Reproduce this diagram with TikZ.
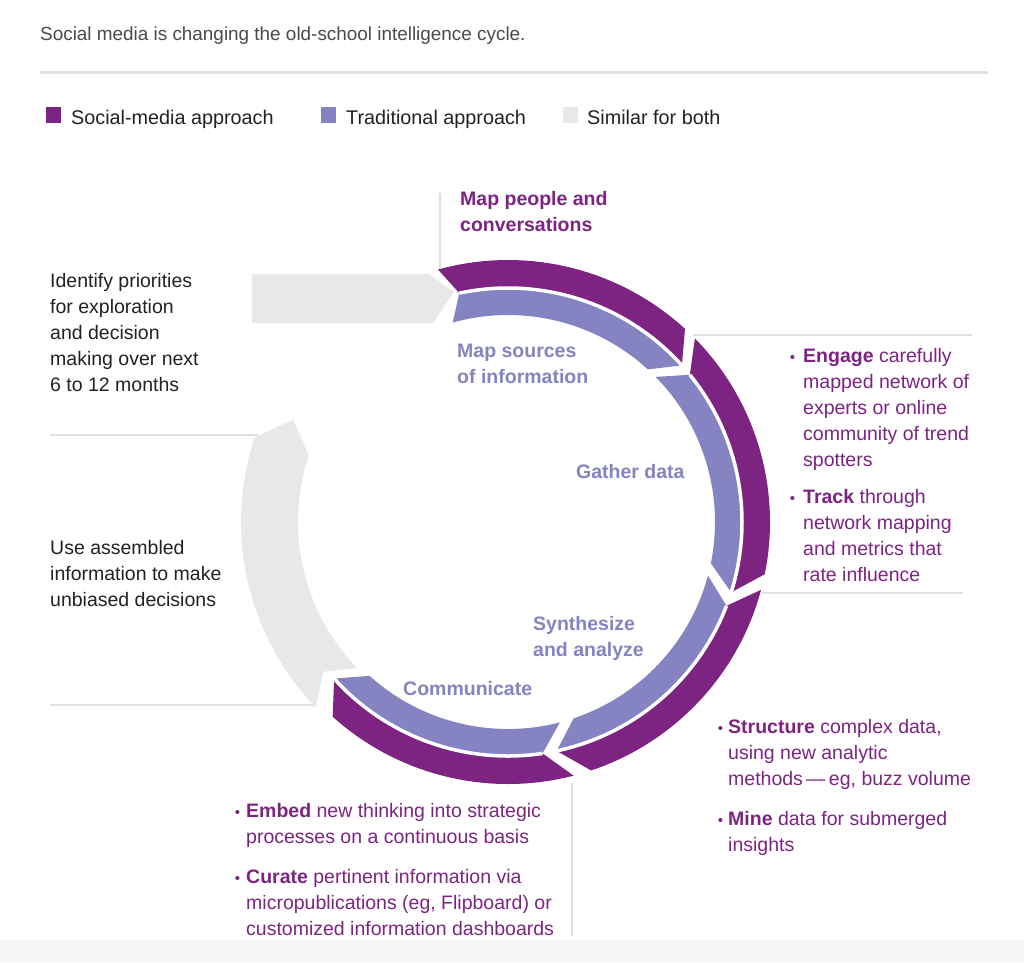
\documentclass[tikz,border=0pt]{standalone}
\usepackage{fontspec}
\setmainfont{Liberation Sans}
\definecolor{purp}{HTML}{7D2482}
\definecolor{lav}{HTML}{8583C1}
\definecolor{grayc}{HTML}{E8E8E8}
\definecolor{txt}{HTML}{222222}
\definecolor{ttl}{HTML}{4A4A4A}
\definecolor{rulec}{HTML}{DDE1E1}
\definecolor{shadec}{HTML}{F6F6F6}
\newcommand\bul[1]{\llap{{\fontsize{15}{15}\selectfont •}\hspace{#1}}}
\def\Ro{262}
\def\Rm{234}
\def\Ri{207}
\newcommand\bandpair[4]{%
  \fill[purp] (#1:\Ro) arc[start angle=#1, end angle=#2, radius=\Ro]
     -- ({#2-#4}:\Rm) arc[start angle={#2-#4}, end angle={#1-#3}, radius=\Rm] -- cycle;
  \fill[lav] ({#1-#3}:\Rm) arc[start angle={#1-#3}, end angle={#2-#4}, radius=\Rm]
     -- (#2:\Ri) arc[start angle=#2, end angle=#1, radius=\Ri] -- cycle;
  \draw[white, line width=3.5pt] ({#1-#3}:\Rm) arc[start angle={#1-#3}, end angle={#2-#4}, radius=\Rm];
}
\begin{document}
\begin{tikzpicture}[x=1pt,y=-1pt,
  body/.style={font=\fontsize{19.5}{26}\selectfont, anchor=base west, align=left, inner sep=0pt, text=txt},
  ptext/.style={body, text=purp},
  ptitle/.style={body, text=purp, font=\fontsize{19.5}{26}\selectfont\bfseries},
  lbl/.style={body, text=lav, font=\fontsize{19.5}{26}\selectfont\bfseries},
  leader/.style={draw=rulec, line width=1.5pt},
  legtext/.style={body, font=\fontsize{19.8}{24}\selectfont}]
\useasboundingbox (0,0) rectangle (1024,962);
\fill[white] (0,0) rectangle (1024,962);
\fill[shadec] (0,940) rectangle (1024,962);

% title and rule
\node[body, text=ttl, font=\fontsize{18.9}{22}\selectfont] (title) at (40,40) {Social media is changing the old-school intelligence cycle.};
\draw[rulec, line width=3pt] (40,72) -- (988,72);

% legend
\fill[purp] (46,107) rectangle (61,123);
\node[legtext] (leg1) at (71,124) {Social-media approach};
\fill[lav] (321,107) rectangle (336,123);
\node[legtext] (leg2) at (346,124) {Traditional approach};
\fill[grayc] (563,107) rectangle (578,123);
\node[legtext] (leg3) at (587,124) {Similar for both};

% gray straight arrow
\fill[grayc] (252,274) -- (429,274) -- (454,292) -- (433,323) -- (252,323) -- cycle;

% ring
\begin{scope}[shift={(508,522)}, yscale=-1]
  \fill[grayc] (224:267) arc[start angle=224, end angle=161.5, radius=267]
     -- (154.5:238) -- (161.5:210) arc[start angle=161.5, end angle=224, radius=210]
     -- (219:238) -- cycle;
  \bandpair{105.5}{47.5}{3.5}{5.5}
  \bandpair{44.5}{-11.5}{5.5}{6}
  \bandpair{-15}{-71.5}{6}{6.5}
  \bandpair{-75.5}{-132}{6}{6}
\end{scope}

% leader lines
\draw[leader] (440,193) -- (440,268);
\draw[leader] (693,335) -- (972,335);
\draw[leader] (762,593) -- (963,593);
\draw[leader] (572,783) -- (572,936);
\draw[leader] (50,435) -- (258,435);
\draw[leader] (50,705) -- (314,705);

% left texts (anchor = baseline of last line)
\node[body] (prio) at (50,391) {Identify priorities\\for exploration\\and decision\\making over next\\6 to 12 months};
\node[body] (use) at (50,606) {Use assembled\\information to make\\unbiased decisions};

% stage labels
\node[ptitle] (mapppl) at (460,231) {Map people and\\conversations};
\node[lbl] (msrc) at (457,383) {Map sources\\of information};
\node[lbl] (gath) at (576,478) {Gather data};
\node[lbl] (syn) at (533,656) {Synthesize\\and analyze};
\node[lbl] (comm) at (403,695) {Communicate};

% bullet texts
\node[ptext] (eng) at (803,581) {\bul{8pt}\textbf{Engage} carefully\\mapped network of\\experts or online\\community of trend\\spotters\\[11pt]\bul{8pt}\textbf{Track} through\\network mapping\\and metrics that\\rate influence};
\node[ptext] (struct) at (728,851) {\bul{5pt}\textbf{Structure} complex data,\\using new analytic\\methods\,—\,eg, buzz volume\\[14pt]\bul{5pt}\textbf{Mine} data for submerged\\insights};
\node[ptext] (embed) at (246,935) {\bul{6pt}\textbf{Embed} new thinking into strategic\\processes on a continuous basis\\[14pt]\bul{6pt}\textbf{Curate} pertinent information via\\micropublications (eg, Flipboard) or\\customized information dashboards};
\end{tikzpicture}
\end{document}
